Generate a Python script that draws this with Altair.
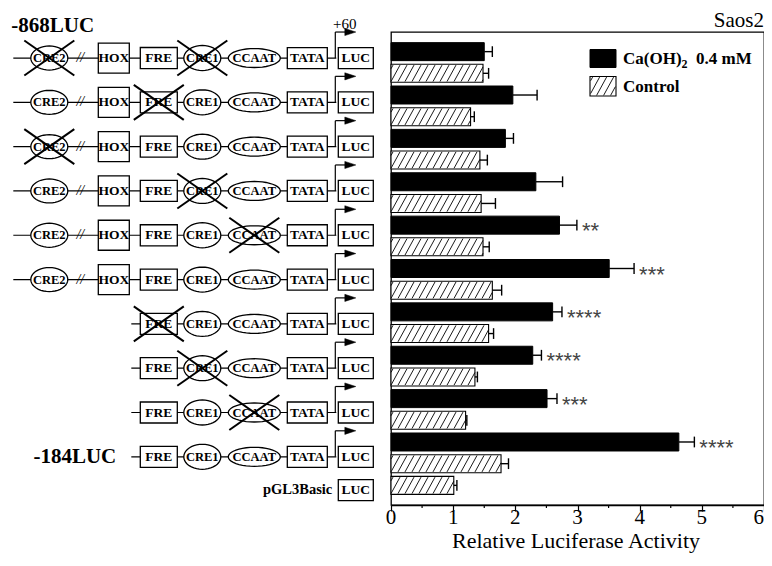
import altair as alt
import pandas as pd
import numpy as np

# ---------------- data ----------------
ca_mean = [1.50, 1.96, 1.84, 2.33, 2.71, 3.51, 2.60, 2.28, 2.51, 4.63]
ca_sd = [0.13, 0.39, 0.13, 0.43, 0.28, 0.40, 0.15, 0.14, 0.16, 0.25]
ctrl_mean = [1.48, 1.28, 1.43, 1.45, 1.48, 1.63, 1.57, 1.35, 1.20, 1.77, 1.01]
ctrl_sd = [0.09, 0.06, 0.12, 0.23, 0.10, 0.15, 0.08, 0.04, 0.02, 0.12, 0.05]
stars = ["", "", "", "", "**", "***", "****", "****", "***", "****"]

full_promoter = ["CRE2", "HOX", "FRE", "CRE1", "CCAAT", "TATA", "LUC"]
short_promoter = ["FRE", "CRE1", "CCAAT", "TATA", "LUC"]
constructs = [full_promoter] * 6 + [short_promoter] * 4 + [["LUC"]]
mutated = [["CRE2", "CRE1"], ["FRE"], ["CRE2"], ["CRE1"], ["CCAAT"], [],
           ["FRE"], ["CRE1"], ["CCAAT"], [], []]
construct_names = ["-868LUC", "-184LUC", "pGL3Basic"]
legend_labels = ["Ca(OH)", "2", "0.4 mM", "Control"]
x_ticks = [0, 1, 2, 3, 4, 5, 6]
minor_ticks = [0.5, 1.5, 2.5, 3.5, 4.5, 5.5]
cell_line = "Saos2"
tss_label = "+60"
x_title = "Relative Luciferase Activity"

# ---------------- layout / style ----------------
W, H = 373, 473
X0 = 392.7                      # reference page x of the plot's left edge (diagram units)
PAD = {"left": 383, "top": 24, "right": 0, "bottom": 48}
YMIN, YMAX = -0.675, 20.675     # slot scale
STEP = H / (YMAX - YMIN)        # px per slot
PXU = W / 6.0                   # px per x unit
SERIF = "Liberation Serif"
BAR = 18

# element geometry: centre x (page px), width, height, kind, font size
GEOM = {
    "CRE2": (51, 37, 24, "ellipse", 12.5),
    "HOX": (115.5, 31, 30, "box", 13.5),
    "FRE": (160.5, 37, 21, "box", 13.5),
    "CRE1": (204, 37, 25, "ellipse", 12.5),
    "CCAAT": (256, 52, 19, "ellipse", 12.5),
    "TATA": (309, 40, 21, "box", 13.5),
    "LUC": (357.5, 35, 21, "box", 13.5),
}


def ellipse_path(r, n=40):
    pts = [(np.cos(t), r * np.sin(t)) for t in np.linspace(0, 2 * np.pi, n, endpoint=False)]
    return "M" + "L".join(f"{x:.3f},{y:.3f}" for x, y in pts) + "Z"


def box_path(r):
    return f"M-1,{-r:.3f}L1,{-r:.3f}L1,{r:.3f}L-1,{r:.3f}Z"


def row_center(i):
    return 2 * i + 0.5 if i < 10 else 20.0


def hatch(x_lo, x_hi, y_bot, y_top, run, spacing, phase=0.0):
    segs = []
    x0 = x_lo - run + phase
    while x0 < x_hi:
        t0 = max(0.0, (x_lo - x0) / run)
        t1 = min(1.0, (x_hi - x0) / run)
        if t1 > t0:
            segs.append((x0 + t0 * run, y_bot + (y_top - y_bot) * t0,
                         x0 + t1 * run, y_bot + (y_top - y_bot) * t1))
        x0 += spacing
    return segs


# ---------------- diagram tables ----------------
shape_rows, text_rows, base_rows, arrow_rows, cross_rows, brk_rows = [], [], [], [], [], []
for i, elems in enumerate(constructs):
    yc = row_center(i)
    for e in elems:
        cx, w, h, kind, fs = GEOM[e]
        r = h / w
        shape_rows.append({"x": cx, "y": yc, "path": ellipse_path(r) if kind == "ellipse" else box_path(r),
                           "size": w * w})
        text_rows.append({"x": cx, "y": yc, "t": e, "fs": fs})
    for e in mutated[i]:
        cx = GEOM[e][0]
        d = 17.5 / STEP
        cross_rows.append({"x": cx - 25, "x2": cx + 25, "y": yc + d, "y2": yc - d})
        cross_rows.append({"x": cx - 25, "x2": cx + 25, "y": yc - d, "y2": yc + d})
    if len(elems) > 1:
        start = 15 if "CRE2" in elems else 133
        base_rows.append({"x": start, "x2": 338, "y": yc})
        arrow_rows.append({"x": 337, "x2": 347, "y": yc, "ytop": yc - 26 / STEP, "ah": 352})
    if "CRE2" in elems:
        brk_rows.append({"x": 82, "y": yc, "t": "//"})

shapes_df = pd.DataFrame(shape_rows)
texts_df = pd.DataFrame(text_rows)
base_df = pd.DataFrame(base_rows)
arrow_df = pd.DataFrame(arrow_rows)
cross_df = pd.DataFrame(cross_rows)
brk_df = pd.DataFrame(brk_rows)
names_df = pd.DataFrame([{"x": 118, "y": row_center(9), "t": construct_names[1]}])
pgl_df = pd.DataFrame([{"x": 334, "y": row_center(10), "t": construct_names[2]}])

DX = alt.Scale(domain=[0, X0], range=[-X0, 0])
YS = alt.Scale(domain=[YMIN, YMAX], reverse=True, nice=False, zero=False)


def dx(f):
    return alt.X(f, type="quantitative", scale=DX, axis=None)


def dy(f):
    return alt.Y(f, type="quantitative", scale=YS, axis=None)


base = alt.Chart(base_df).mark_rule(color="black", strokeWidth=1.2).encode(
    x=dx("x"), x2="x2", y=dy("y"))
arrow_v = alt.Chart(arrow_df).mark_rule(color="black", strokeWidth=1.2).encode(
    x=dx("x"), y=dy("y"), y2="ytop")
arrow_h = alt.Chart(arrow_df).mark_rule(color="black", strokeWidth=1.2).encode(
    x=dx("x"), x2="x2", y=dy("ytop"))
arrow_head = alt.Chart(arrow_df).mark_point(
    shape="M-1,-0.65L1,0L-1,0.65Z", size=121, filled=True, fill="black", stroke="black",
    strokeWidth=0.5, opacity=1).encode(x=dx("ah"), y=dy("ytop"))
shapes = alt.Chart(shapes_df).mark_point(
    filled=True, fill="white", stroke="black", strokeWidth=1.3, fillOpacity=1,
    strokeOpacity=1, opacity=1).encode(
    x=dx("x"), y=dy("y"),
    shape=alt.Shape("path:N", scale=None),
    size=alt.Size("size:Q", scale=None))
el_txt = alt.Chart(texts_df).mark_text(
    font=SERIF, fontWeight="bold", color="black", baseline="middle",
    align="center").encode(x=dx("x"), y=dy("y"), text="t",
                           size=alt.Size("fs:Q", scale=None))
brk = alt.Chart(brk_df).mark_text(
    font=SERIF, fontSize=14, fontStyle="italic", color="black", baseline="middle",
    align="center").encode(x=dx("x"), y=dy("y"), text="t")
crosses = alt.Chart(cross_df).mark_rule(color="black", strokeWidth=2).encode(
    x=dx("x"), x2="x2", y=dy("y"), y2="y2")
names = alt.Chart(names_df).mark_text(
    font=SERIF, fontSize=21, fontWeight="bold", color="black", baseline="middle",
    align="right").encode(x=dx("x"), y=dy("y"), text="t")
pgl = alt.Chart(pgl_df).mark_text(
    font=SERIF, fontSize=14.5, fontWeight="bold", color="black", baseline="middle",
    align="right").encode(x=dx("x"), y=dy("y"), text="t")

diagram = alt.layer(base, arrow_v, arrow_h, arrow_head, shapes, el_txt,
                    brk, crosses, names, pgl)

# ---------------- bars ----------------
ca_df = pd.DataFrame({
    "slot": [2 * i for i in range(len(ca_mean))],
    "val": ca_mean,
    "err": [m + s for m, s in zip(ca_mean, ca_sd)],
    "star": stars,
})
ctrl_df = pd.DataFrame({
    "slot": [2 * i + 1 for i in range(10)] + [20],
    "val": ctrl_mean,
    "err": [m + s for m, s in zip(ctrl_mean, ctrl_sd)],
})
hb = (BAR / 2 - 0.6) / STEP
hrows = []
for s, v in zip(ctrl_df.slot, ctrl_df.val):
    for (xa, ya, xb, yb) in hatch(0.0, v, s + hb, s - hb, 9 / PXU, 7 / PXU, 2 / PXU):
        hrows.append({"x": xa, "y": ya, "x2": xb, "y2": yb})
hatch_df = pd.DataFrame(hrows)
cap = 5.5 / STEP
all_err = pd.concat([ca_df[["slot", "val", "err"]], ctrl_df[["slot", "val", "err"]]])
all_err["c1"] = all_err.slot - cap
all_err["c2"] = all_err.slot + cap
minor_df = pd.DataFrame({"x": minor_ticks})
tick_df = pd.DataFrame({"v": x_ticks, "t": [str(t) for t in x_ticks]})
title_df = pd.DataFrame({"t": [x_title]})

XS = alt.Scale(domain=[0, 6], nice=False)
XA = alt.Axis(values=x_ticks, labels=False, title=None, grid=False, tickSize=6,
              tickColor="black", tickWidth=1.2, domainColor="black", domainWidth=1.3)


def bx(f):
    return alt.X(f, type="quantitative", scale=XS, axis=XA)


ctrl_fill = alt.Chart(ctrl_df).mark_bar(orient="horizontal", size=BAR, fill="white").encode(
    x=bx("val"), y=dy("slot"))
hatch_l = alt.Chart(hatch_df).mark_rule(color="black", strokeWidth=0.9).encode(
    x=bx("x"), x2="x2", y=dy("y"), y2="y2")
ctrl_edge = alt.Chart(ctrl_df).mark_bar(orient="horizontal", size=BAR, fillOpacity=0,
                                        stroke="black", strokeWidth=1.1).encode(
    x=bx("val"), y=dy("slot"))
ca_bar = alt.Chart(ca_df).mark_bar(orient="horizontal", size=BAR, fill="black",
                                   stroke="black", strokeWidth=1).encode(
    x=bx("val"), y=dy("slot"))
err_l = alt.Chart(all_err).mark_rule(color="black", strokeWidth=1.4).encode(
    x=bx("val"), x2="err", y=dy("slot"))
err_c = alt.Chart(all_err).mark_rule(color="black", strokeWidth=1.4).encode(
    x=bx("err"), y=dy("c1"), y2="c2")
star_t = alt.Chart(ca_df).mark_text(font="Liberation Sans", fontSize=22, color="#444",
                                    align="left", baseline="alphabetic", dx=5, dy=13).encode(
    x=bx("err"), y=dy("slot"), text="star")
minor = alt.Chart(minor_df).mark_rule(color="black", strokeWidth=1.2).encode(
    x=bx("x"), y=alt.value(H), y2=alt.value(H + 3))
tick_lab = alt.Chart(tick_df[tick_df.v < 6]).mark_text(
    font=SERIF, fontSize=21, color="black", align="center", baseline="alphabetic").encode(
    x=bx("v"), y=alt.value(H + 19), text="t")
tick_last = alt.Chart(tick_df[tick_df.v == 6]).mark_text(
    font=SERIF, fontSize=21, color="black", align="right", baseline="alphabetic",
    dx=0).encode(x=bx("v"), y=alt.value(H + 19), text="t")
title_t = alt.Chart(title_df).mark_text(font=SERIF, fontSize=22, color="black",
                                        align="center", baseline="alphabetic").encode(
    x=alt.value(185), y=alt.value(H + 43.3), text="t")

bars = alt.layer(ctrl_fill, hatch_l, ctrl_edge, ca_bar, err_l, err_c, star_t, minor,
                 tick_lab, tick_last, title_t)

# ---------------- legend & annotations (pixel positions) ----------------
lg_box = pd.DataFrame([{"x": 199, "x2": 225, "y": 17.5, "y2": 35.5}])
lg_ctrl = pd.DataFrame([{"x": 199, "x2": 225, "y": 44.5, "y2": 64}])
lg_h = pd.DataFrame([{"x": a, "y": b, "x2": c, "y2": d}
                     for (a, b, c, d) in hatch(199.6, 224.4, 63.4, 45.1, 10, 7, 2)])


def px(f):
    return alt.X(f, type="quantitative", scale=None)


def py(f):
    return alt.Y(f, type="quantitative", scale=None)


leg1 = alt.Chart(lg_box).mark_rect(fill="black", stroke="black").encode(
    x=px("x"), x2="x2", y=py("y"), y2="y2")
leg2 = alt.Chart(lg_ctrl).mark_rect(fill="white", stroke="black", strokeWidth=1.1).encode(
    x=px("x"), x2="x2", y=py("y"), y2="y2")
leg2h = alt.Chart(lg_h).mark_rule(color="black", strokeWidth=0.9).encode(
    x=px("x"), x2="x2", y=py("y"), y2="y2")
leg_txt = alt.Chart(pd.DataFrame({
    "t": legend_labels,
    "x": [232, 290.5, 305, 232],
    "y": [27, 32, 27, 55],
    "fs": [17, 12, 17, 17],
})).mark_text(font=SERIF, fontWeight="bold", color="black", align="left",
              baseline="middle").encode(x=px("x"), y=py("y"), text="t",
                                        size=alt.Size("fs:Q", scale=None))
legend = alt.layer(leg1, leg2, leg2h, leg_txt)

ann_saos = alt.Chart(pd.DataFrame({"t": [cell_line]})).mark_text(
    font=SERIF, fontSize=21, color="black", align="right", baseline="alphabetic").encode(
    x=alt.value(W), y=alt.value(-5), text="t")
ann_868 = alt.Chart(pd.DataFrame({"t": [construct_names[0]]})).mark_text(
    font=SERIF, fontSize=21, fontWeight="bold", color="black", align="left",
    baseline="alphabetic").encode(x=alt.value(13 - X0), y=alt.value(0.3), text="t")
ann_tss = alt.Chart(pd.DataFrame({"t": [tss_label]})).mark_text(
    font=SERIF, fontSize=15, color="black", align="center", baseline="alphabetic").encode(
    x=alt.value(346.5 - X0), y=alt.value(-2.7), text="t")
annotations = alt.layer(ann_saos, ann_868, ann_tss)

chart = alt.layer(diagram, bars, legend, annotations).resolve_scale(
    x="independent", y="independent").properties(
    width=W, height=H, background="white",
    autosize=alt.AutoSizeParams(type="none"), padding=PAD).configure_view(
    stroke="black", strokeWidth=1.3)

chart.save("out.html", embed_options={"renderer": "svg", "actions": False})
